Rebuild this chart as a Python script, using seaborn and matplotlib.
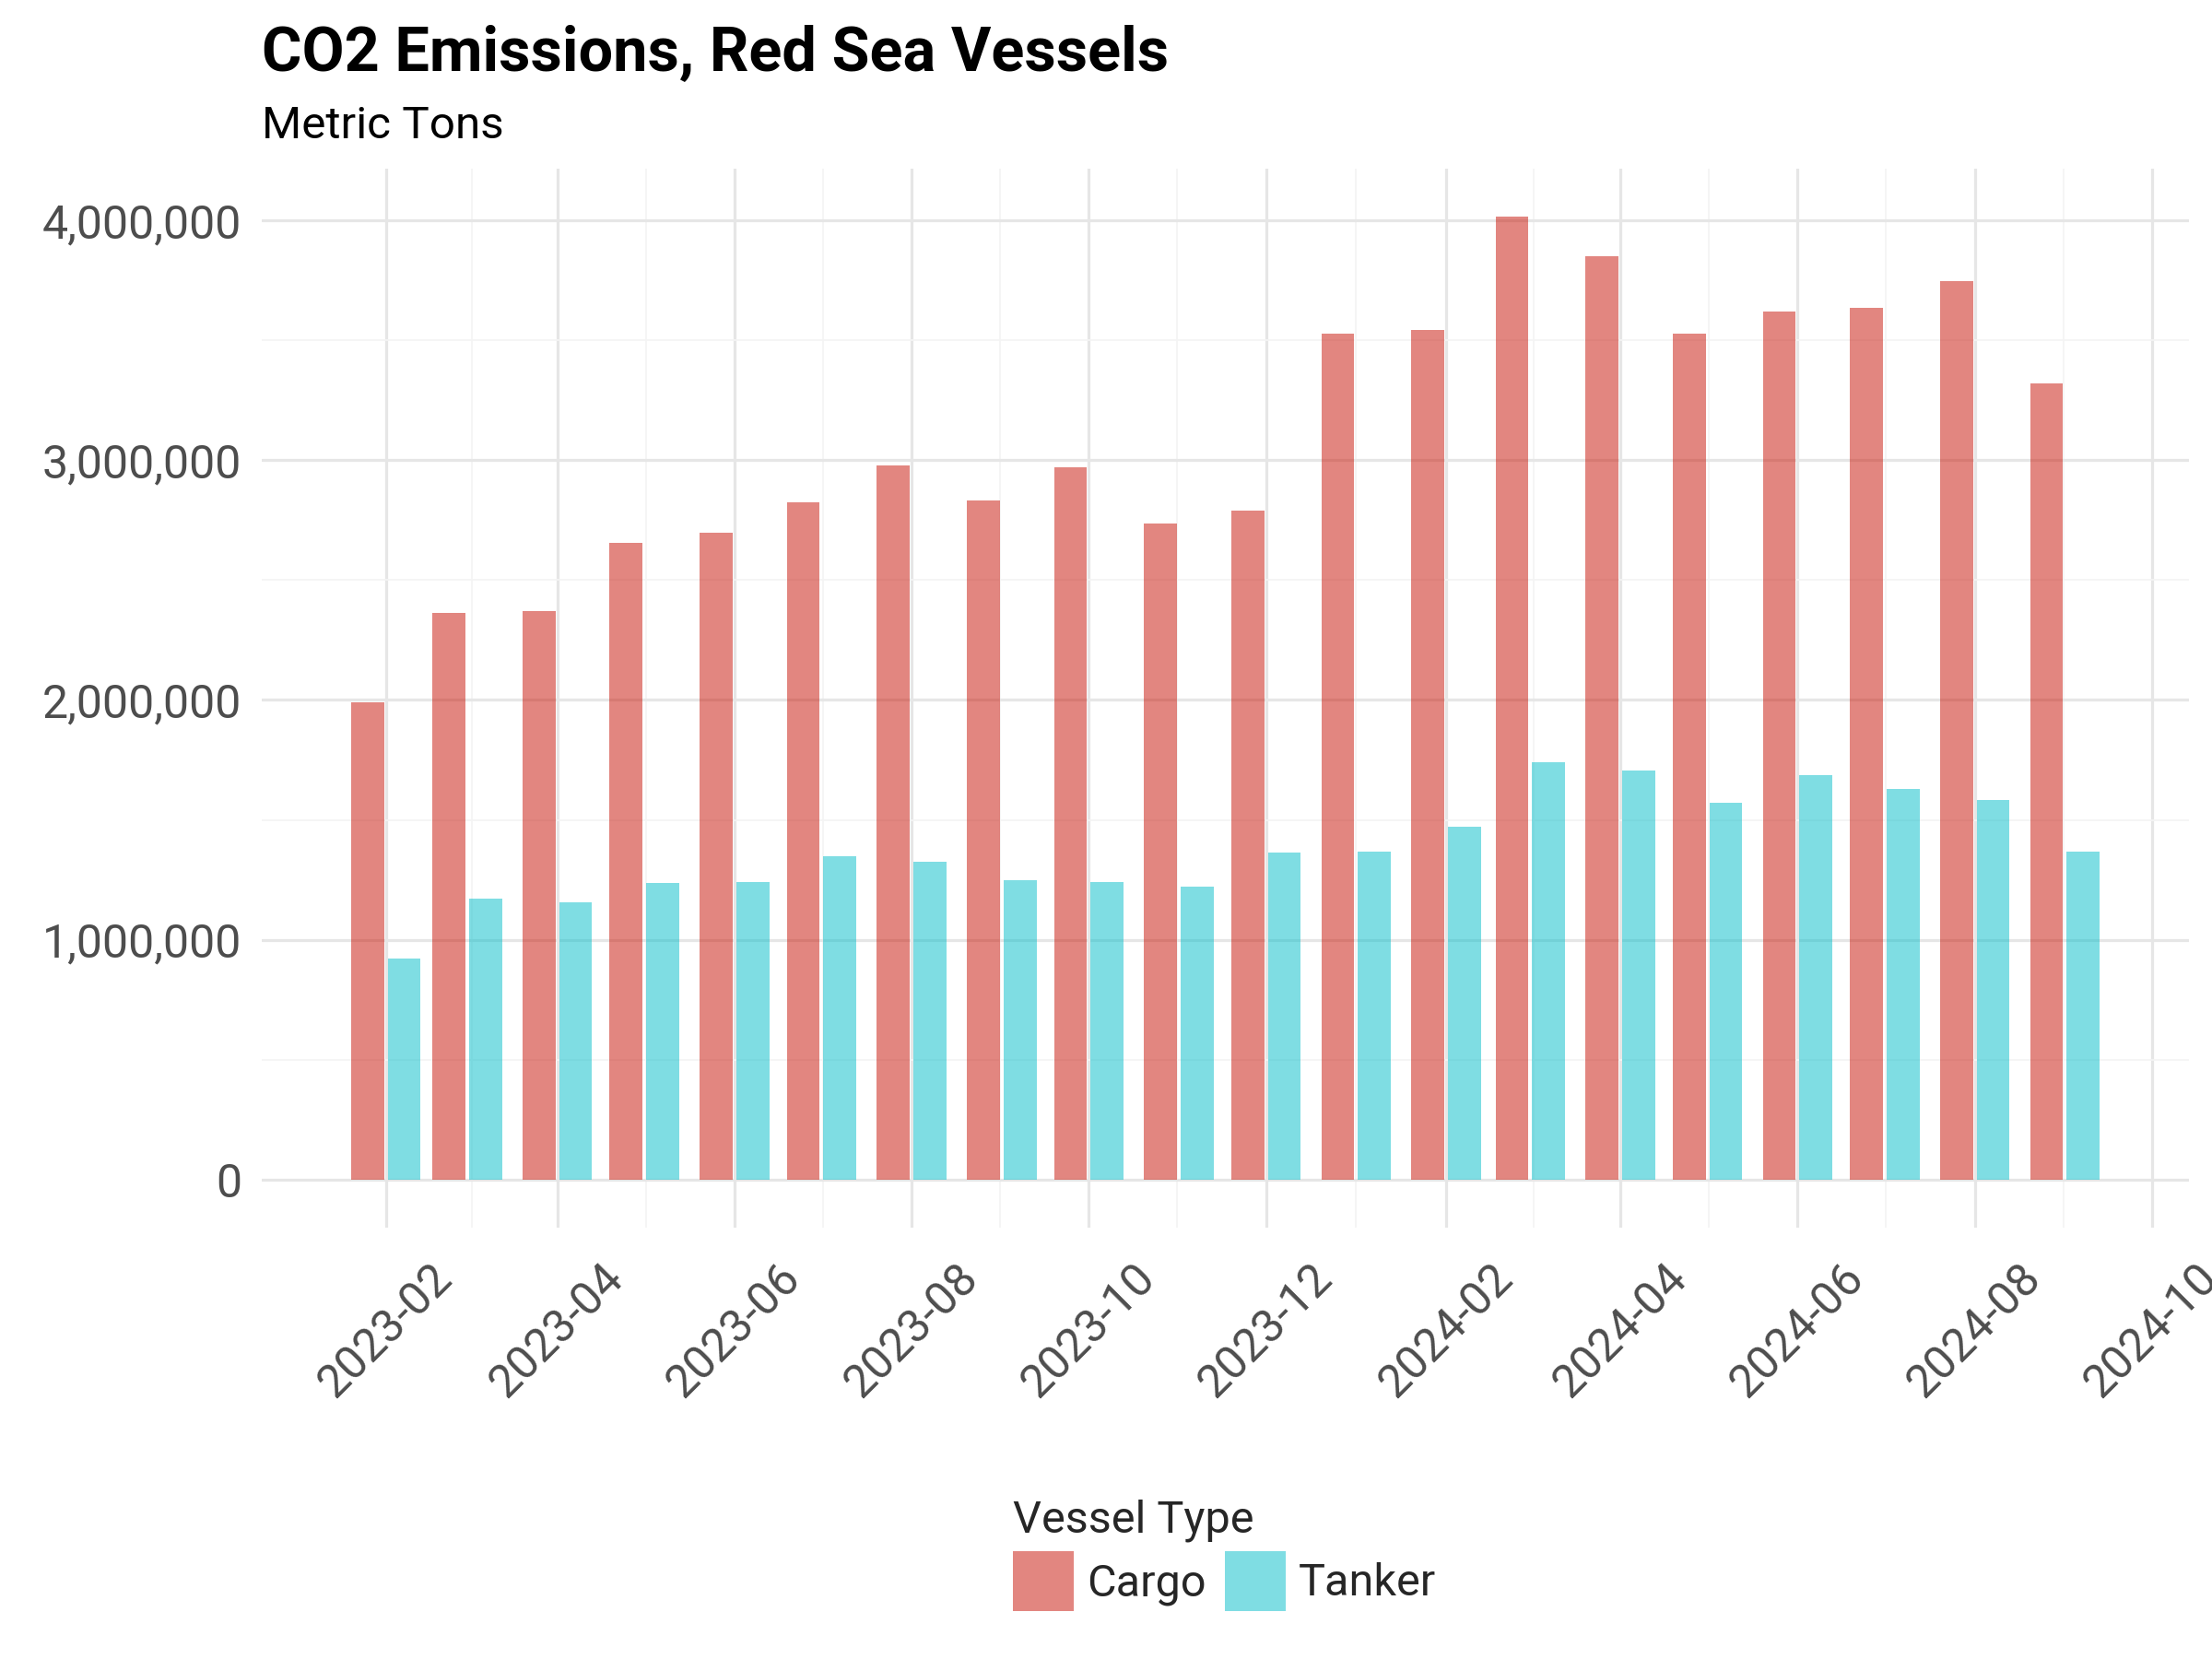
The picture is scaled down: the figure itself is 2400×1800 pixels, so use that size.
import numpy as np
import pandas as pd
import matplotlib
matplotlib.use("Agg")
import matplotlib.pyplot as plt
import matplotlib.dates as mdates
from matplotlib.ticker import FuncFormatter, FixedLocator
import seaborn as sns

# Monthly CO2 emissions (metric tons)
months = ["2023-02", "2023-03", "2023-04", "2023-05", "2023-06", "2023-07",
          "2023-08", "2023-09", "2023-10", "2023-11", "2023-12", "2024-01",
          "2024-02", "2024-03", "2024-04", "2024-05", "2024-06", "2024-07",
          "2024-08", "2024-09"]
cargo = [1992000, 2362000, 2372000, 2655000, 2698000, 2825000,
         2980000, 2832000, 2972000, 2737000, 2790000, 3527000,
         3542000, 4015000, 3850000, 3527000, 3620000, 3635000,
         3748000, 3320000]
tanker = [923000, 1173000, 1158000, 1235000, 1240000, 1348000,
          1325000, 1248000, 1240000, 1222000, 1362000, 1366000,
          1472000, 1742000, 1705000, 1570000, 1686000, 1628000,
          1582000, 1366000]
vessel_types = ["Cargo", "Tanker"]
y_breaks = [0, 1000000, 2000000, 3000000, 4000000]
x_breaks = ["2023-02", "2023-04", "2023-06", "2023-08", "2023-10", "2023-12",
            "2024-02", "2024-04", "2024-06", "2024-08", "2024-10"]

palette = {"Cargo": "#C70F02", "Tanker": "#01BDC9"}


def build_frame():
    """Long format table for seaborn"""
    df = pd.DataFrame({
        "month": pd.to_datetime(months * 2),
        "vessel": np.repeat(vessel_types, len(months)),
        "co2": cargo + tanker,
    })
    df["x"] = mdates.date2num(df["month"])
    return df


def main():
    sns.set_theme(style="white")
    plt.rcParams["font.family"] = ["Roboto", "DejaVu Sans"]

    df = build_frame()

    fig = plt.figure(figsize=(24, 18), dpi=100)
    ax = fig.add_axes([0.1183, 0.26, 0.8713, 0.6383])

    sns.barplot(data=df, x="x", y="co2", hue="vessel", hue_order=vessel_types,
                native_scale=True, width=0.9, gap=0.1, palette=palette,
                saturation=1, alpha=0.5, errorbar=None, linewidth=0, ax=ax)

    # ggplot-like expansion of the limits (5% of data range)
    xs = np.unique(df["x"])
    half = 0.45 * np.min(np.diff(xs))
    lo, hi = xs.min() - half, xs.max() + half
    pad = 0.05 * (hi - lo)
    ax.set_xlim(lo - pad, hi + pad)
    ymax = max(cargo + tanker)
    ax.set_ylim(-0.05 * ymax, 1.05 * ymax)

    # axes and grid
    major_x = mdates.date2num(pd.to_datetime(x_breaks))
    ax.xaxis.set_major_locator(FixedLocator(major_x))
    ax.xaxis.set_minor_locator(FixedLocator((major_x[:-1] + major_x[1:]) / 2))
    ax.xaxis.set_major_formatter(mdates.DateFormatter("%Y-%m"))
    ax.yaxis.set_major_locator(FixedLocator(y_breaks))
    ax.yaxis.set_minor_locator(FixedLocator([b + 500000 for b in y_breaks[:-1]]))
    ax.yaxis.set_major_formatter(FuncFormatter(lambda v, _: f"{v:,.0f}"))

    ax.set_axisbelow(True)
    ax.grid(which="major", color="#E6E6E6", linewidth=2.3)
    ax.grid(which="minor", color="#F4F4F4", linewidth=1.3)
    for s in ax.spines.values():
        s.set_visible(False)

    ax.tick_params(which="both", length=0, labelsize=36, labelcolor="#4D4D4D")
    ax.tick_params(axis="y", pad=15.5)
    ax.tick_params(axis="x", pad=22)
    plt.setp(ax.get_xticklabels(), rotation=45, ha="center")
    ax.set_xlabel("")
    ax.set_ylabel("")

    fig.text(0.1183, 0.9578, "CO2 Emissions, Red Sea Vessels", fontsize=48,
             fontweight="bold", va="baseline", color="black")
    fig.text(0.1183, 0.9167, "Metric Tons", fontsize=35.6, va="baseline",
             color="black")

    sns.move_legend(ax, "upper center", bbox_to_anchor=(0.5535, 0.11),
                    bbox_transform=fig.transFigure, ncol=2, title="Vessel Type",
                    frameon=False, fontsize=35, title_fontsize=35,
                    handlelength=1.36, handleheight=1.71, handletextpad=0.28,
                    columnspacing=0.42, labelspacing=0.2, borderpad=0,
                    alignment="left")

    fig.savefig("out.png", dpi=100)
    plt.close(fig)


if __name__ == "__main__":
    main()
